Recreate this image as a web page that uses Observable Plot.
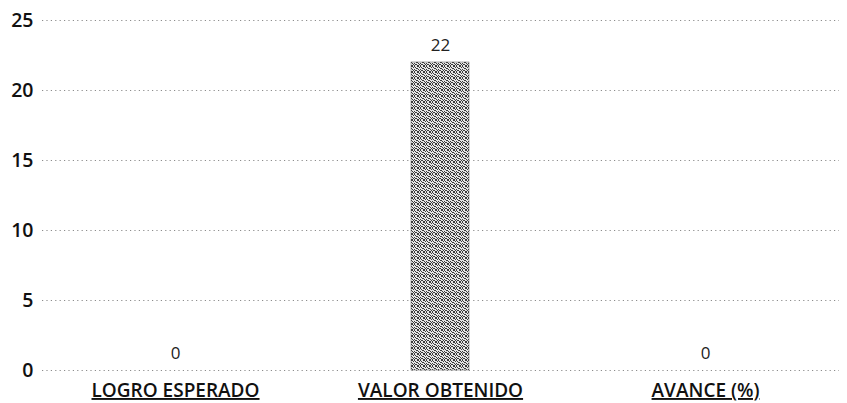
<!DOCTYPE html>
<html>
<head>
<meta charset="utf-8">
<script src="https://cdn.jsdelivr.net/npm/d3@7"></script>
<script src="https://cdn.jsdelivr.net/npm/@observablehq/plot@0.6"></script>
<style>
  html, body { margin: 0; padding: 0; background: #fff; }
  .cat text { text-decoration: underline; }
</style>
</head>
<body>
<div id="chart"></div>
<script>
const categories = ["LOGRO ESPERADO", "VALOR OBTENIDO", "AVANCE (%)"];
const values = [0, 22, 0];
const yTicks = [0, 5, 10, 15, 20, 25];

const data = categories.map((c, i) => ({category: c, value: values[i]}));

const chart = Plot.plot({
  width: 847,
  height: 403,
  marginTop: 20,
  marginBottom: 33,
  marginLeft: 42,
  marginRight: 8,
  style: {fontFamily: "'Open Sans', sans-serif", background: "#fff"},
  x: {domain: categories, paddingInner: 0.78, paddingOuter: 0.39, label: null},
  y: {domain: [0, 25], label: null},
  marks: [
    Plot.gridY(yTicks, {stroke: "#666", strokeOpacity: 0.75, strokeDasharray: "1.2,3.2", strokeWidth: 1}),
    Plot.barY(data, {x: "category", y: "value", fill: "url(#stipple)", stroke: "#555", strokeWidth: 0.5}),
    Plot.text(data, {x: "category", y: "value", text: d => String(d.value), dy: -17, fontSize: 17, fill: "#222"}),
    Plot.axisY(yTicks, {tickSize: 0, tickPadding: 9, fontSize: 19.5, fontWeight: 600, fill: "#111", label: null}),
    Plot.axisX({tickSize: 0, tickPadding: 13, fontSize: 19, fontWeight: 600, fill: "#111", label: null, className: "cat"})
  ]
});

// stipple pattern for the bar
const ns = "http://www.w3.org/2000/svg";
const defs = document.createElementNS(ns, "defs");
const pat = document.createElementNS(ns, "pattern");
pat.setAttribute("id", "stipple");
pat.setAttribute("width", "6");
pat.setAttribute("height", "6");
pat.setAttribute("patternUnits", "userSpaceOnUse");
const bg = document.createElementNS(ns, "rect");
bg.setAttribute("width", "6"); bg.setAttribute("height", "6"); bg.setAttribute("fill", "#e6e6e6");
pat.appendChild(bg);
const dots = [[0,0],[3,0],[4,0],[1,1],[5,1],[2,2],[3,2],[0,3],[4,3],[1,4],[2,4],[5,4],[0,5],[3,5],[4,5]];
dots.forEach(([px, py]) => {
  const r = document.createElementNS(ns, "rect");
  r.setAttribute("x", px); r.setAttribute("y", py);
  r.setAttribute("width", "1"); r.setAttribute("height", "1");
  r.setAttribute("fill", "#3a3a3a");
  pat.appendChild(r);
});
defs.appendChild(pat);
chart.insertBefore(defs, chart.firstChild);

document.getElementById("chart").appendChild(chart);
</script>
</body>
</html>
